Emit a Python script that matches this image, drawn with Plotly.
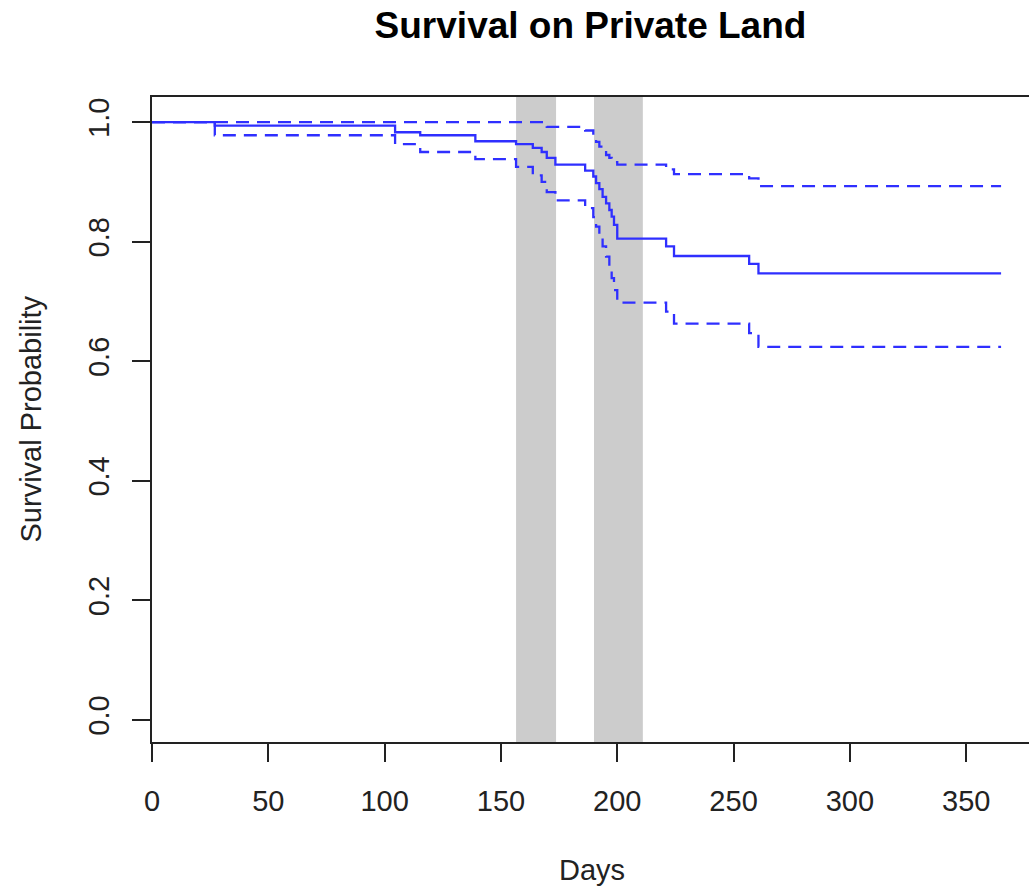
import plotly.graph_objects as go

# ---- data ----
days = [0, 27, 104.5, 115.3, 139, 156.5, 163.7, 167.5, 169.7, 173.4, 186.2, 189.7,
        190.9, 192.3, 193.7, 195.2, 196.6, 197.6, 198.6, 200, 221, 224.4, 256.7,
        260.7, 365]
survival = [1.0, 0.994, 0.983, 0.978, 0.968, 0.963, 0.957, 0.950, 0.940, 0.929,
            0.919, 0.909, 0.898, 0.888, 0.875, 0.864, 0.853, 0.842, 0.828, 0.805,
            0.792, 0.776, 0.763, 0.747, 0.747]
upper_ci = [1.0, 1.0, 1.0, 1.0, 1.0, 1.0, 1.0, 1.0, 0.992, 0.992, 0.986, 0.976,
            0.967, 0.959, 0.952, 0.945, 0.940, 0.936, 0.933, 0.929, 0.921, 0.913,
            0.906, 0.893, 0.893]
lower_ci = [1.0, 0.978, 0.963, 0.950, 0.938, 0.925, 0.911, 0.900, 0.883, 0.869,
            0.856, 0.841, 0.825, 0.809, 0.792, 0.775, 0.757, 0.739, 0.719, 0.698,
            0.683, 0.663, 0.647, 0.624, 0.624]
band_start = [156.5, 190.0]
band_end = [173.7, 211.0]
x_ticks = [0, 50, 100, 150, 200, 250, 300, 350]
y_ticks = [0.0, 0.2, 0.4, 0.6, 0.8, 1.0]
y_tick_labels = ["0.0", "0.2", "0.4", "0.6", "0.8", "1.0"]

BLUE = "#2f2fff"
AXIS = "#222222"
FONT = "Liberation Sans, Arial, sans-serif"

fig = go.Figure()

fig.add_trace(go.Scatter(x=days, y=upper_ci, mode="lines", line_shape="hv",
                         line=dict(color=BLUE, width=2.3, dash="13px,8px"),
                         showlegend=False, hoverinfo="skip"))
fig.add_trace(go.Scatter(x=days, y=lower_ci, mode="lines", line_shape="hv",
                         line=dict(color=BLUE, width=2.3, dash="13px,8px"),
                         showlegend=False, hoverinfo="skip"))
fig.add_trace(go.Scatter(x=days, y=survival, mode="lines", line_shape="hv",
                         line=dict(color=BLUE, width=2.3),
                         showlegend=False))

for s, e in zip(band_start, band_end):
    fig.add_shape(type="rect", xref="x", yref="paper", x0=s, x1=e, y0=0, y1=1,
                  fillcolor="#cccccc", line_width=0, layer="below")

fig.update_layout(
    width=1029, height=890,
    margin=dict(l=152, r=0, t=97, b=148),
    paper_bgcolor="white", plot_bgcolor="white",
    font=dict(family=FONT, size=29, color=AXIS),
    title=dict(text="<b>Survival on Private Land</b>", x=(152 + 877 / 2) / 1029,
               xanchor="center", y=1 - 25 / 890, yanchor="middle", yref="container",
               font=dict(family=FONT, size=37, color="#000000")),
    showlegend=False,
)

fig.update_xaxes(range=[0, 377], tickvals=x_ticks, ticks="outside", ticklen=18,
                 tickwidth=1.5, tickcolor=AXIS, showline=True, linecolor=AXIS,
                 linewidth=2, mirror=True, showgrid=False, zeroline=False,
                 ticklabelstandoff=14, tickfont=dict(size=29, color=AXIS))
fig.update_yaxes(range=[-0.037, 1.042], tickvals=y_ticks, ticktext=y_tick_labels,
                 tickangle=-90, ticks="outside", ticklen=18, tickwidth=1.5,
                 tickcolor=AXIS, showline=True, linecolor=AXIS, linewidth=2,
                 showgrid=False, zeroline=False, ticklabelstandoff=11,
                 tickfont=dict(size=29, color=AXIS))

fig.add_annotation(text="Days", xref="paper", yref="paper",
                   x=(592 - 152) / 877, y=-(870 - 742) / 645,
                   xanchor="center", yanchor="middle", showarrow=False,
                   font=dict(family=FONT, size=29, color=AXIS))
fig.add_annotation(text="Survival Probability", xref="paper", yref="paper",
                   x=-(152 - 30) / 877, y=0.5, textangle=-90,
                   xanchor="center", yanchor="middle", showarrow=False,
                   font=dict(family=FONT, size=29, color=AXIS))

fig.write_html("out.html")
